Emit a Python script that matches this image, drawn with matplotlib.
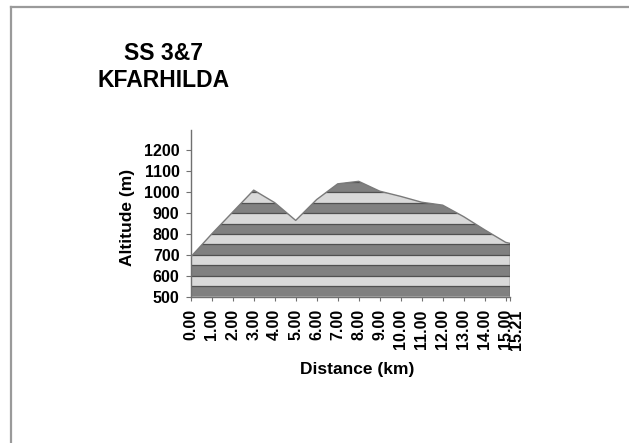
import numpy as np
import matplotlib
matplotlib.use("Agg")
import matplotlib.pyplot as plt
import matplotlib.transforms as mtransforms
from matplotlib.patches import Polygon
from matplotlib.lines import Line2D

plt.rcParams['font.family'] = ['Liberation Sans', 'DejaVu Sans']
plt.rcParams['font.weight'] = 'bold'

title = "SS 3&7\nKFARHILDA"
distance_km = [0, 1, 2, 3, 4, 5, 6, 7, 8, 9, 10, 11, 12, 13, 14, 15, 15.21]
altitude_m = [690, 800, 905, 1010, 950, 865, 965, 1040, 1052, 1005, 980, 952, 938, 883, 820, 760, 755]
x_tick_labels = ["0.00", "1.00", "2.00", "3.00", "4.00", "5.00", "6.00", "7.00", "8.00",
                 "9.00", "10.00", "11.00", "12.00", "13.00", "14.00", "15.00", "15.21"]
y_ticks = [500, 600, 700, 800, 900, 1000, 1100, 1200]
band_edges = list(range(500, 1101, 50))

W, H = 629, 443
fig = plt.figure(figsize=(W / 100, H / 100), dpi=100)
fig.patch.set_facecolor('white')

# page border lines (top and left)
fig.add_artist(Line2D([11 / W, 11 / W], [0, 1 - 7 / H], color='#9a9a9a', lw=1.6, transform=fig.transFigure))
fig.add_artist(Line2D([11 / W, 1], [1 - 7 / H, 1 - 7 / H], color='#9a9a9a', lw=1.6, transform=fig.transFigure))

left, right = 190.7, 510.1
bottom, top = 296.7, 129.5
ax = fig.add_axes([left / W, 1 - bottom / H, (right - left) / W, (bottom - top) / H])

x = np.array(distance_km, dtype=float)
y = np.array(altitude_m, dtype=float)
ymin = 500

ax.set_xlim(0, 15.21)
ax.set_ylim(500, 1300)

verts = np.vstack([np.column_stack([x, y]), [[x[-1], ymin], [x[0], ymin]]])
poly = Polygon(verts, closed=True, facecolor='none', edgecolor='none', transform=ax.transData)
ax.add_patch(poly)

dark = '#808080'
light = '#d9d9d9'
for i in range(len(band_edges) - 1):
    lo, hi = band_edges[i], band_edges[i + 1]
    col = dark if i % 2 == 0 else light
    span = ax.axhspan(lo, hi, facecolor=col, edgecolor='none', zorder=1)
    span.set_clip_path(poly)
for e in band_edges[1:]:
    ln = ax.axhline(e, color='#505050', lw=0.9, zorder=2)
    ln.set_clip_path(poly)

ax.plot(x, y, color='#7a7a7a', lw=1.0, zorder=3)
ax.plot([x[-1], x[-1]], [ymin, y[-1]], color='#5a5a5a', lw=1.0, zorder=3)

for s in ['top', 'right']:
    ax.spines[s].set_visible(False)
for s in ['left', 'bottom']:
    ax.spines[s].set_color('#707070')
    ax.spines[s].set_linewidth(1.0)
ax.patch.set_alpha(0)

ax.set_yticks(y_ticks)
ax.set_yticklabels([str(v) for v in y_ticks], fontsize=11.5, fontweight='bold')
ax.set_xticks(distance_km)
ax.set_xticklabels(x_tick_labels, rotation=90, fontsize=11.5, fontweight='bold')
ax.tick_params(axis='y', length=3.5, width=0.8, color='#707070', pad=4.5)
ax.tick_params(axis='x', length=3, width=0.8, color='#707070', pad=6)

lab = ax.get_xticklabels()[-1]
lab.set_transform(lab.get_transform() + mtransforms.ScaledTranslation(4.5 / 72, 0, fig.dpi_scale_trans))

ax.set_xlabel("Distance (km)", fontsize=12.5, fontweight='bold')
ax.xaxis.set_label_coords(0.522, -0.435)
ax.xaxis.label.set_va('center')
ax.set_ylabel("Altitude (m)", fontsize=12.5, fontweight='bold')
ax.yaxis.set_label_coords(-0.198, 0.475)
ax.yaxis.label.set_va('center')

fig.text(164 / W, 1 - 67 / H, title, ha='center', va='center', fontsize=16.5,
         fontweight='bold', linespacing=1.2)

fig.savefig("out.png", dpi=100, facecolor='white')
